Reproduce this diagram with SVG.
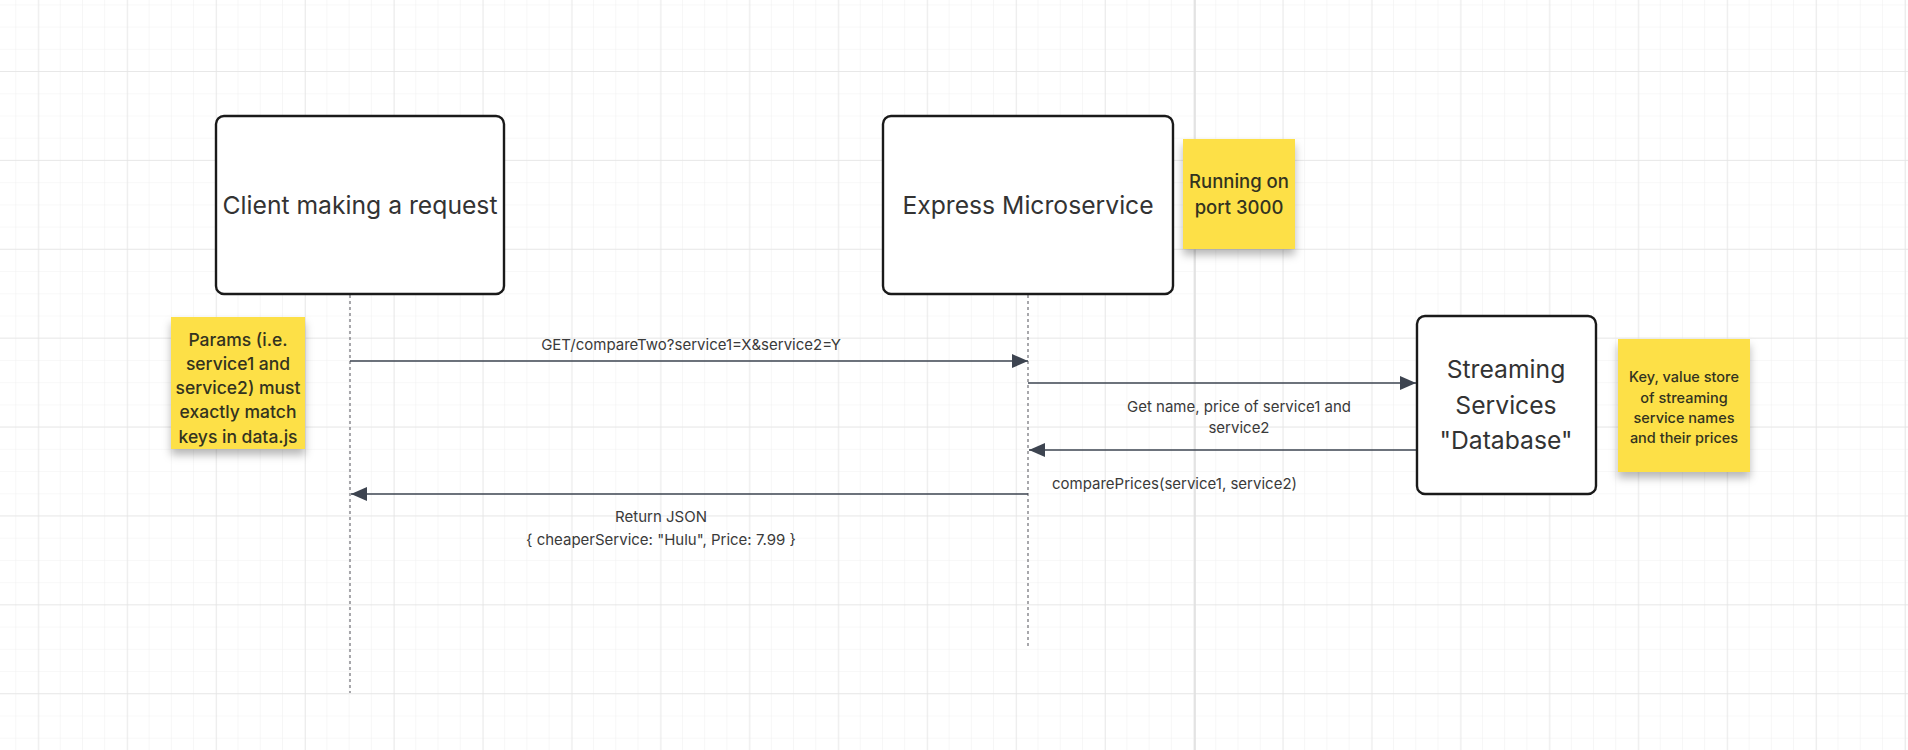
<svg xmlns="http://www.w3.org/2000/svg" width="1908" height="750" viewBox="0 0 1908 750">
  <defs>
    <pattern id="gridMinor" patternUnits="userSpaceOnUse" x="15.3" y="4.4" width="22.222" height="22.222">
      <path d="M0 0 H22.222 M0 0 V22.222" fill="none" stroke="#f1f1f1" stroke-width="1.2"/>
    </pattern>
    <pattern id="gridMajor" patternUnits="userSpaceOnUse" x="38.3" y="-17.9" width="88.889" height="88.889">
      <path d="M0 0 H88.889 M0 0 V88.889" fill="none" stroke="#e4e4e4" stroke-width="1.3"/>
    </pattern>
    <marker id="arrow" viewBox="0 0 16 14" refX="16" refY="7" markerWidth="16" markerHeight="14" markerUnits="userSpaceOnUse" orient="auto">
      <path d="M0 0 L16 7 L0 14 Z" fill="#3d4450"/>
    </marker>
    <filter id="stickyShadow" x="-20%" y="-20%" width="140%" height="150%">
      <feDropShadow dx="0" dy="6" stdDeviation="4" flood-color="#000" flood-opacity="0.28"/>
    </filter>
    <style>
      .box { fill: #ffffff; stroke: #1a1a1a; stroke-width: 2.4; }
      .sticky { fill: #fde047; filter: url(#stickyShadow); }
      .boxText { font-family: Inter, "Liberation Sans", sans-serif; font-size: 24.7px; fill: #333333; text-anchor: middle; }
      .stickyText { font-family: Inter, "Liberation Sans", sans-serif; font-weight: 500; fill: #33331f; text-anchor: middle; }
      .label { font-family: Inter, "Liberation Sans", sans-serif; font-size: 15px; fill: #3a3a3a; text-anchor: middle; }
      .msg { fill: none; stroke: #3d4450; stroke-width: 1.6; marker-end: url(#arrow); }
      .lifeline { fill: none; stroke: #7a7a80; stroke-width: 1.3; stroke-dasharray: 3 3; }
    </style>
  </defs>

  <rect x="0" y="0" width="1908" height="750" fill="#ffffff"/>
  <rect x="0" y="0" width="1908" height="750" fill="url(#gridMinor)"/>
  <rect x="0" y="0" width="1908" height="750" fill="url(#gridMajor)"/>
  <line x1="1195" y1="0" x2="1195" y2="750" stroke="#e0e0e0" stroke-width="1.6"/>

  <g id="lifelines">
    <line class="lifeline" x1="350" y1="295" x2="350" y2="693"/>
    <line class="lifeline" x1="1028" y1="295" x2="1028" y2="649"/>
  </g>

  <g id="connectors">
    <line class="msg" x1="350" y1="361" x2="1028" y2="361"/>
    <line class="msg" x1="1028" y1="383" x2="1416" y2="383"/>
    <line class="msg" x1="1416" y1="450" x2="1029" y2="450"/>
    <line class="msg" x1="1028" y1="494" x2="351" y2="494"/>
    <text class="label" x="691" y="350">GET/compareTwo?service1=X&amp;service2=Y</text>
    <text class="label" x="1239" y="412">Get name, price of service1 and</text>
    <text class="label" x="1239" y="433">service2</text>
    <text class="label" x="1052" y="489" style="text-anchor:start">comparePrices(service1, service2)</text>
    <text class="label" x="661" y="522">Return JSON</text>
    <text class="label" x="661" y="545">{ cheaperService: "Hulu", Price: 7.99 }</text>
  </g>

  <g id="client">
    <rect class="box" x="216" y="116" width="288" height="178" rx="8"/>
    <text class="boxText" x="360" y="214">Client making a request</text>
  </g>

  <g id="express">
    <rect class="box" x="883" y="116" width="290" height="178" rx="8"/>
    <text class="boxText" x="1028" y="214">Express Microservice</text>
  </g>

  <g id="database">
    <rect class="box" x="1417" y="316" width="179" height="178" rx="8"/>
    <text class="boxText" x="1506" y="378">Streaming</text>
    <text class="boxText" x="1506" y="414">Services</text>
    <text class="boxText" x="1506" y="449">"Database"</text>
  </g>

  <g id="note-port">
    <rect class="sticky" x="1183" y="139" width="112" height="110"/>
    <text class="stickyText" x="1239" y="188" font-size="18.5">Running on</text>
    <text class="stickyText" x="1239" y="214" font-size="18.5">port 3000</text>
  </g>

  <g id="note-params">
    <rect class="sticky" x="171" y="317" width="134" height="132"/>
    <text class="stickyText" x="238" y="346" font-size="17.5">Params (i.e.</text>
    <text class="stickyText" x="238" y="370" font-size="17.5">service1 and</text>
    <text class="stickyText" x="238" y="394" font-size="17.5">service2) must</text>
    <text class="stickyText" x="238" y="418" font-size="17.5">exactly match</text>
    <text class="stickyText" x="238" y="443" font-size="17.5">keys in data.js</text>
  </g>

  <g id="note-store">
    <rect class="sticky" x="1618" y="339" width="132" height="133"/>
    <text class="stickyText" x="1684" y="382" font-size="14.5">Key, value store</text>
    <text class="stickyText" x="1684" y="403" font-size="14.5">of streaming</text>
    <text class="stickyText" x="1684" y="423" font-size="14.5">service names</text>
    <text class="stickyText" x="1684" y="443" font-size="14.5">and their prices</text>
  </g>
</svg>
